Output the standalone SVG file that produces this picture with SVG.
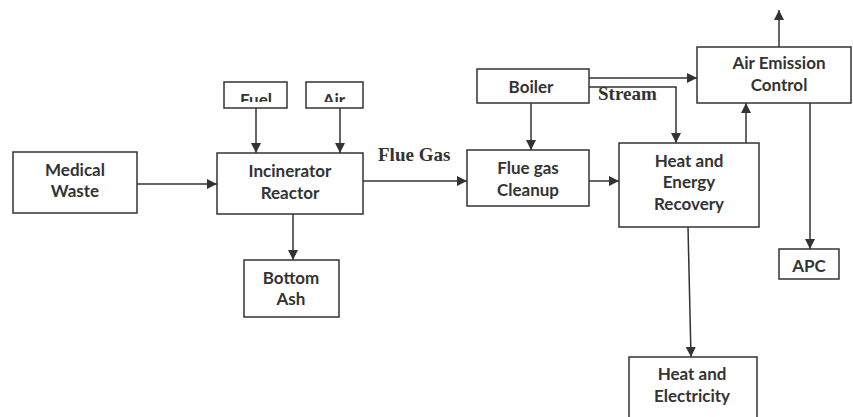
<svg xmlns="http://www.w3.org/2000/svg" width="853" height="417" viewBox="0 0 853 417">
<defs>
<style>
.box{fill:#fff;stroke:#333;stroke-width:1.5}
.t{font-family:Lato,"Open Sans",sans-serif;font-weight:bold;font-size:17px;fill:#333;text-anchor:middle}
.s{font-family:"Liberation Serif","Times New Roman",serif;font-weight:bold;font-size:19px;fill:#333}
.c{fill:none;stroke:#333;stroke-width:1.5}
</style>
<marker id="ah" markerUnits="userSpaceOnUse" markerWidth="10" markerHeight="10" refX="10" refY="5" orient="auto" viewBox="0 0 10 10">
<path d="M0,0 L10,5 L0,10 z" fill="#333"/>
</marker>
<clipPath id="cut"><rect x="0" y="80" width="853" height="22"/></clipPath>
</defs>
<rect width="853" height="417" fill="#fff"/>
<g id="connectors">
<path class="c" marker-end="url(#ah)" d="M137,184 H217"/>
<path class="c" marker-end="url(#ah)" d="M256,108 V153"/>
<path class="c" marker-end="url(#ah)" d="M340,108 V153"/>
<path class="c" marker-end="url(#ah)" d="M293,214 V260"/>
<path class="c" marker-end="url(#ah)" d="M363,181 H467"/>
<path class="c" marker-end="url(#ah)" d="M531,103 V150"/>
<path class="c" marker-end="url(#ah)" d="M589,181 H619"/>
<path class="c" marker-end="url(#ah)" d="M589,78 H697"/>
<path class="c" marker-end="url(#ah)" d="M589,87 H676 V143"/>
<path class="c" marker-end="url(#ah)" d="M746,143 V103"/>
<path class="c" marker-end="url(#ah)" d="M779,47 V10"/>
<path class="c" marker-end="url(#ah)" d="M810,103 V249"/>
<path class="c" marker-end="url(#ah)" d="M688,227 L691,357"/>
<text class="s" x="378" y="161">Flue Gas</text>
<text class="s" x="598" y="100">Stream</text>
</g>
<g id="medical-waste">
<rect class="box" x="13" y="152" width="124" height="61"/>
<text class="t" x="75" y="176">Medical</text>
<text class="t" x="75" y="197">Waste</text>
</g>
<g id="fuel">
<rect class="box" x="224" y="82" width="63" height="26"/>
<text class="t" x="256" y="106" clip-path="url(#cut)">Fuel</text>
</g>
<g id="air">
<rect class="box" x="306" y="82" width="57" height="26"/>
<text class="t" x="334" y="106" clip-path="url(#cut)">Air</text>
</g>
<g id="incinerator-reactor">
<rect class="box" x="217" y="153" width="146" height="61"/>
<text class="t" x="290" y="177">Incinerator</text>
<text class="t" x="290" y="199">Reactor</text>
</g>
<g id="bottom-ash">
<rect class="box" x="244" y="260" width="95" height="57"/>
<text class="t" x="291" y="284">Bottom</text>
<text class="t" x="291" y="305">Ash</text>
</g>
<g id="boiler">
<rect class="box" x="477" y="69" width="112" height="34"/>
<text class="t" x="531" y="93">Boiler</text>
</g>
<g id="flue-gas-cleanup">
<rect class="box" x="467" y="150" width="122" height="56"/>
<text class="t" x="528" y="174">Flue gas</text>
<text class="t" x="528" y="196">Cleanup</text>
</g>
<g id="heat-energy-recovery">
<rect class="box" x="619" y="143" width="140" height="84"/>
<text class="t" x="689" y="167">Heat and</text>
<text class="t" x="689" y="188">Energy</text>
<text class="t" x="689" y="210">Recovery</text>
</g>
<g id="air-emission-control">
<rect class="box" x="697" y="47" width="154" height="56"/>
<text class="t" x="779" y="69">Air Emission</text>
<text class="t" x="779" y="91">Control</text>
</g>
<g id="apc">
<rect class="box" x="779" y="249" width="60" height="30"/>
<text class="t" x="809" y="272">APC</text>
</g>
<g id="heat-electricity">
<rect class="box" x="629" y="357" width="128" height="70"/>
<text class="t" x="692" y="380">Heat and</text>
<text class="t" x="692" y="402">Electricity</text>
</g>
</svg>
